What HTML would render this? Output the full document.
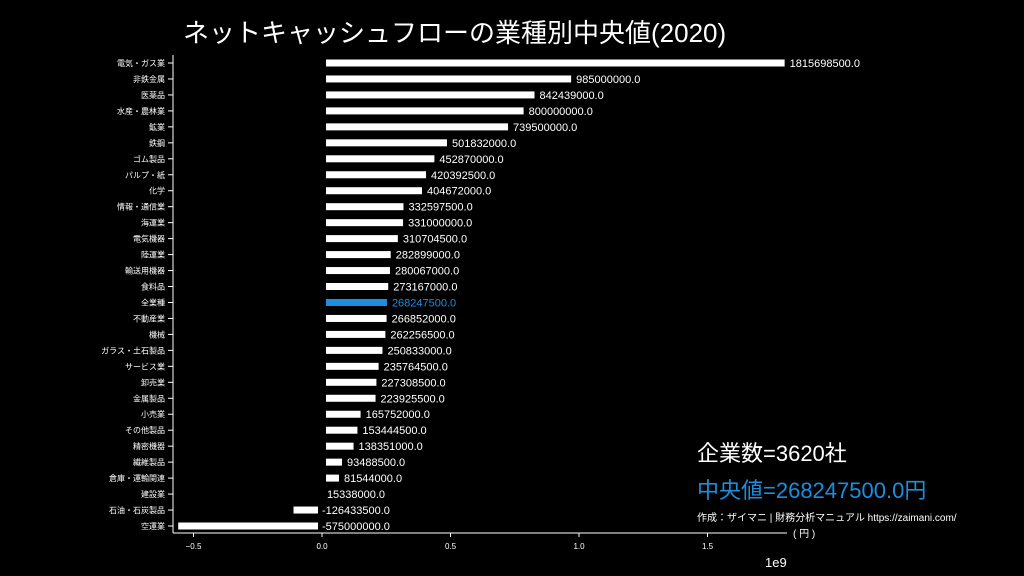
<!DOCTYPE html>
<html><head><meta charset="utf-8"><style>
body{margin:0;background:#000;width:1024px;height:576px;overflow:hidden}
svg{display:block}
text{font-family:"Liberation Sans","Noto Sans CJK JP",sans-serif}
</style></head><body>
<svg id="chart" width="1024" height="576" viewBox="0 0 1024 576">
<rect width="1024" height="576" fill="#000"/>
<text x="183" y="42" font-size="26" fill="#fff">ネットキャッシュフローの業種別中央値(2020)</text>
<g id="bars"></g>
<g id="axes"></g>
<text x="697" y="461" font-size="22" fill="#fff">企業数=3620社</text>
<text x="697" y="498" font-size="22" fill="#1a8fe0">中央値=268247500.0円</text>
<text x="697" y="521" font-size="10" fill="#fff">作成：ザイマニ | 財務分析マニュアル https://zaimani.com/</text>
<text x="793" y="537" font-size="10" fill="#fff">( 円 )</text>
<text x="765" y="567" font-size="13" fill="#fff">1e9</text>
</svg>
<script>
const categories=["電気・ガス業","非鉄金属","医薬品","水産・農林業","鉱業","鉄鋼","ゴム製品","パルプ・紙","化学","情報・通信業","海運業","電気機器","陸運業","輸送用機器","食料品","全業種","不動産業","機械","ガラス・土石製品","サービス業","卸売業","金属製品","小売業","その他製品","精密機器","繊維製品","倉庫・運輸関連","建設業","石油・石炭製品","空運業"];
const values=[1815698500,985000000,842439000,800000000,739500000,501832000,452870000,420392500,404672000,332597500,331000000,310704500,282899000,280067000,273167000,268247500,266852000,262256500,250833000,235764500,227308500,223925500,165752000,153444500,138351000,93488500,81544000,15338000,-126433500,-575000000];
const xTicks=[-0.5,0,0.5,1.0,1.5];
const xTickLabels=["−0.5","0.0","0.5","1.0","1.5"];
const highlight="全業種";
const NS="http://www.w3.org/2000/svg";
const x0=322, pxPerUnit=257/1e9;
function xs(v){return x0+v*pxPerUnit;}
function ys(i){return 63+i*(526-63)/(categories.length-1);}
const bars=document.getElementById('bars'), axes=document.getElementById('axes');
function mk(tag,attrs,parent,txt){const e=document.createElementNS(NS,tag);for(const k in attrs)e.setAttribute(k,attrs[k]);if(txt!==undefined)e.textContent=txt;parent.appendChild(e);return e;}
categories.forEach((c,i)=>{
  const v=values[i], y=ys(i), col=c===highlight?"#1a8fe0":"#fff";
  const a=xs(0), b=xs(v);
  const L=Math.min(a,b)+4, R=Math.max(a,b)-4;
  if(R>L){const r=mk('rect',{x:L,y:y-3.5,width:R-L,height:7,fill:col},bars);
    
    }
  const t=mk('text',{x:Math.max(a,b)+(v<0?-2:1),y:y+4,'font-size':11,fill:col},bars,v.toFixed(1).replace('-','-'));
  if(v<0) t.setAttribute('x',a+0);
  
  
  const tk=mk('line',{x1:168,x2:173,y1:y,y2:y,stroke:'#fff','stroke-width':1},axes);
  
  
  const lb=mk('text',{x:165,y:y+3,'font-size':8,fill:'#fff','text-anchor':'end'},axes,c);
  
  
});
const sp=mk('line',{x1:173,x2:173,y1:55,y2:533,stroke:'#fff','stroke-width':1},axes);


const bx=mk('line',{x1:173,x2:787,y1:533,y2:533,stroke:'#fff','stroke-width':1},axes);


xTicks.forEach((t,i)=>{
  const x=xs(t*1e9);
  const l=mk('line',{x1:x,x2:x,y1:533,y2:537,stroke:'#fff','stroke-width':1},axes);
  
  
  const tx=mk('text',{x:x,y:549,'font-size':8,fill:'#fff','text-anchor':'middle'},axes,xTickLabels[i]);
  
  
});
</script>
</body></html>
